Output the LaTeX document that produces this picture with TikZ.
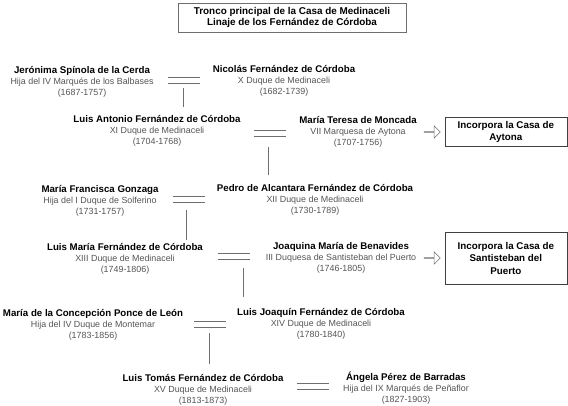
\documentclass[tikz,border=0pt]{standalone}
\usepackage{fontspec}
\setmainfont{Liberation Sans}
\usetikzlibrary{shapes.arrows, positioning, calc}

\definecolor{subgray}{HTML}{555555}
\definecolor{linegray}{HTML}{6E6E6E}

\newcommand{\persona}[3]{{\fontsize{9.7}{11.2}\selectfont\bfseries #1}\\{\color{subgray}#2}\\{\color{subgray}#3}}

\begin{document}
\begin{tikzpicture}[
  x=1pt, y=-1pt,
  % Node styles
  persona/.style={
    align=center, inner sep=1pt,
    font=\fontsize{8.9}{11.2}\selectfont
  },
  titlebox/.style={
    rectangle, draw=linegray, line width=0.6pt,
    minimum width=228pt, minimum height=29pt,
    align=center, font=\fontsize{9.9}{11.5}\selectfont\bfseries
  },
  incbox/.style={
    rectangle, draw=black!75, line width=0.6pt,
    minimum width=122pt, inner sep=2pt,
    align=center, font=\fontsize{9.8}{12.5}\selectfont\bfseries
  },
  hollowarrow/.style={
    single arrow, draw=linegray, line width=0.5pt,
    minimum width=12pt, minimum height=16pt,
    single arrow head extend=3pt, inner sep=0pt
  },
  % Line styles
  wed/.style={linegray, line width=0.6pt},
  descent/.style={linegray, line width=0.6pt}
]
\useasboundingbox (0,0) rectangle (568,406);

%% -- Title --------------------------------------------------------
\node[titlebox] (title) at (292,17.5)
  {Tronco principal de la Casa de Medinaceli\\Linaje de los Fernández de Córdoba};

%% -- Persons ------------------------------------------------------
\node[persona] (jeronima)   at (82,82)   {\persona{Jerónima Spínola de la Cerda}{Hija del IV Marqués de los Balbases}{(1687-1757)}};
\node[persona] (nicolas)    at (284,81)  {\persona{Nicolás Fernández de Córdoba}{X Duque de Medinaceli}{(1682-1739)}};
\node[persona] (luisA)      at (157,131) {\persona{Luis Antonio Fernández de Córdoba}{XI Duque de Medinaceli}{(1704-1768)}};
\node[persona] (mteresa)    at (358,132) {\persona{María Teresa de Moncada}{VII Marquesa de Aytona}{(1707-1756)}};
\node[persona] (mfrancisca) at (100,201) {\persona{María Francisca Gonzaga}{Hija del I Duque de Solferino}{(1731-1757)}};
\node[persona] (pedro)      at (315,200) {\persona{Pedro de Alcantara Fernández de Córdoba}{XII Duque de Medinaceli}{(1730-1789)}};
\node[persona] (luisM)      at (125,259) {\persona{Luis María Fernández de Córdoba}{XIII Duque de Medinaceli}{(1749-1806)}};
\node[persona] (joaquina)   at (341,258) {\persona{Joaquina María de Benavides}{III Duquesa de Santisteban del Puerto}{(1746-1805)}};
\node[persona] (mconcep)    at (93,325)  {\persona{María de la Concepción Ponce de León}{Hija del IV Duque de Montemar}{(1783-1856)}};
\node[persona] (luisJ)      at (321,324) {\persona{Luis Joaquín Fernández de Córdoba}{XIV Duque de Medinaceli}{(1780-1840)}};
\node[persona] (luisT)      at (203,390) {\persona{Luis Tomás Fernández de Córdoba}{XV Duque de Medinaceli}{(1813-1873)}};
\node[persona] (angela)     at (406,388) {\persona{Ángela Pérez de Barradas}{Hija del IX Marqués de Peñaflor}{(1827-1903)}};

%% -- Marriage signs -----------------------------------------------
\coordinate (m1) at (184,80);
\coordinate (m2) at (270,133);
\coordinate (m3) at (189,199.5);
\coordinate (m4) at (234,256.5);
\coordinate (m5) at (210,324);
\coordinate (m6) at (313,386);
\foreach \m in {m1,m2,m3,m4,m5,m6}{
  \draw[wed] ($(\m)+(-16,-3)$) -- ++(32,0);
  \draw[wed] ($(\m)+(-16,3)$)  -- ++(32,0);
}

%% -- Descent lines ------------------------------------------------
\coordinate (d1) at (183,88);  \coordinate (c1) at (183,107);
\coordinate (d2) at (268,147); \coordinate (c2) at (268,175);
\coordinate (d3) at (186,210); \coordinate (c3) at (186,240);
\coordinate (d4) at (243,268); \coordinate (c4) at (243,297);
\coordinate (d5) at (209,333); \coordinate (c5) at (209,364);
\foreach \i in {1,...,5}
  \draw[descent] (d\i) -- (c\i);

%% -- Incorporated houses ------------------------------------------
\node[hollowarrow] (arr1) at (432,132) {};
\node[incbox, minimum height=29pt, right=4pt of arr1] (aytona)
  {Incorpora la Casa de\\Aytona};
\node[hollowarrow] (arr2) at (432,258) {};
\node[incbox, minimum height=52pt, right=4pt of arr2] (santisteban)
  {Incorpora la Casa de\\Santisteban del\\Puerto};

\end{tikzpicture}
\end{document}
